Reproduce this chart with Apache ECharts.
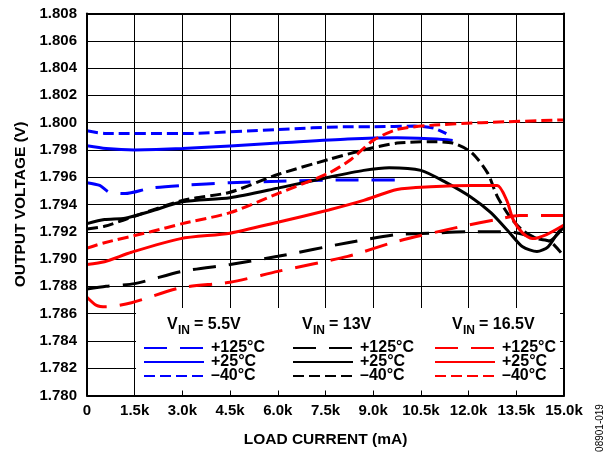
<!DOCTYPE html>
<html>
<head>
<meta charset="utf-8">
<script src="https://cdn.jsdelivr.net/npm/echarts@6/dist/echarts.min.js"></script>
<style>
html,body{margin:0;padding:0;background:#fff;}
#c{width:615px;height:453px;}
</style>
</head>
<body>
<div id="c"></div>
<script>
// ---- data (load current mA, output voltage V) ----
const vin55_p125 = [[0,1.7956],[400,1.7954],[700,1.7949],[1200,1.7948],[2000,1.7952],[3000,1.7954],[4500,1.7956],[6000,1.7957],[8000,1.7958],[10000,1.7958]];
const vin55_p25  = [[0,1.7983],[600,1.7981],[1500,1.7980],[3000,1.7981],[6000,1.7985],[8200,1.7988],[9750,1.7989],[11000,1.7988],[11500,1.7987]];
const vin55_m40  = [[0,1.7994],[600,1.7992],[3000,1.7992],[6000,1.7995],[8200,1.7997],[9000,1.7997],[10300,1.79975],[10900,1.7996],[11300,1.7992]];

const vin13_p125 = [[0,1.7878],[600,1.7880],[1500,1.7882],[3000,1.7891],[4500,1.7896],[6000,1.7902],[8200,1.7912],[9750,1.7918],[10800,1.7919],[12000,1.7920],[13300,1.7920],[13900,1.7917],[14500,1.7913],[15000,1.7924]];
const vin13_p25  = [[0,1.7926],[550,1.7929],[1200,1.7930],[2000,1.7935],[3000,1.7942],[4500,1.7945],[6000,1.7952],[7600,1.7960],[8700,1.7965],[9500,1.7967],[10500,1.7965],[11300,1.7956],[12100,1.7945],[12700,1.7934],[13300,1.7919],[13700,1.7909],[14150,1.79055],[14500,1.7909],[14800,1.7919],[15000,1.7924]];
const vin13_m40  = [[0,1.7922],[550,1.7924],[1200,1.7929],[3000,1.7943],[4500,1.7949],[6000,1.7962],[7600,1.7973],[8700,1.7980],[9750,1.7985],[10800,1.7986],[11500,1.7985],[12100,1.7978],[12600,1.7963],[12900,1.7946],[13300,1.7931],[13700,1.7921],[14150,1.7915],[14560,1.7913],[15000,1.7902]];

const vin165_p125 = [[0,1.7872],[300,1.7866],[600,1.7865],[1400,1.7868],[2950,1.7879],[4500,1.7883],[6000,1.7891],[8200,1.7902],[9750,1.7913],[11800,1.7924],[12900,1.7929],[13600,1.7932],[15000,1.7932]];
const vin165_p25  = [[0,1.7896],[550,1.7898],[1400,1.7905],[2950,1.7915],[4500,1.7919],[6000,1.7927],[7600,1.7936],[8700,1.7943],[9750,1.7951],[10800,1.7953],[12100,1.7954],[12900,1.7954],[13200,1.7943],[13400,1.7929],[13700,1.7919],[14000,1.7915],[14450,1.7918],[15000,1.7925]];
const vin165_m40  = [[0,1.7908],[550,1.7912],[2000,1.7920],[3000,1.7926],[4500,1.7934],[6000,1.7948],[7600,1.7963],[8300,1.7973],[9000,1.7987],[9750,1.7995],[10800,1.7998],[12400,1.8000],[15000,1.8002]];

const xTickLabels = ['0','1.5k','3.0k','4.5k','6.0k','7.5k','9.0k','10.5k','12.0k','13.5k','15.0k'];
const yTickLabels = ['1.780','1.782','1.784','1.786','1.788','1.790','1.792','1.794','1.796','1.798','1.800','1.802','1.804','1.806','1.808'];
const groups = ['5.5V','13V','16.5V'];
const temps = ['+125°C','+25°C','–40°C'];

const FONT = 'Liberation Sans, Arial, Helvetica, sans-serif';
const LONG = [23,13], SHORT = [11,5];
const colors = {'5.5V':'#0000ff','13V':'#000000','16.5V':'#ff0000'};
const dashes = {'+125°C':LONG,'+25°C':'solid','–40°C':SHORT};
const dataMap = {
  '5.5V':{'+125°C':vin55_p125,'+25°C':vin55_p25,'–40°C':vin55_m40},
  '13V':{'+125°C':vin13_p125,'+25°C':vin13_p25,'–40°C':vin13_m40},
  '16.5V':{'+125°C':vin165_p125,'+25°C':vin165_p25,'–40°C':vin165_m40}
};

const series = [];
groups.forEach(g => temps.forEach(t => {
  series.push({
    name: g + '|' + t, type: 'line', data: dataMap[g][t],
    xAxisIndex: 0, yAxisIndex: 0,
    smooth: 0.25, symbol: 'none', showSymbol: false, z: 2,
    lineStyle: {color: colors[g], width: 3, type: dashes[t]},
    itemStyle: {color: colors[g]},
    emphasis: {disabled: true}
  });
}));

const baseX = {type:'value', min:0, max:15000, interval:1500, gridIndex:0};
const baseY = {type:'value', min:1.780, max:1.808, interval:0.002, gridIndex:0};

const legendCols = [143, 292, 434];
const legends = groups.map((g,i) => ({
  orient:'vertical', left: legendCols[i], top: 340, padding: 0,
  itemWidth: 60, itemHeight: 14, itemGap: -2, selectedMode: false,
  data: temps.map(t => g + '|' + t),
  formatter: n => n.split('|')[1],
  itemStyle: {color: 'rgba(0,0,0,0)', borderWidth: 0, opacity: 0},
  textStyle: {fontFamily: FONT, fontWeight:'bold', fontSize: 16, color:'#000', lineHeight: 14, padding:[0,0,0,2]},
  z: 5
}));

function header(x, rest) {
  return [
    {type:'text', x:x, y:325, z:5, style:{text:'V', font:'bold 16px '+FONT, fill:'#000', textVerticalAlign:'middle'}},
    {type:'text', x:x+11, y:331, z:5, style:{text:'IN', font:'bold 12px '+FONT, fill:'#000', textVerticalAlign:'middle'}},
    {type:'text', x:x+27, y:325, z:5, style:{text:rest, font:'bold 16px '+FONT, fill:'#000', textVerticalAlign:'middle'}}
  ];
}

const option = {
  animation: false,
  backgroundColor: '#fff',
  grid: {left: 87, right: 51, top: 13.5, bottom: 57.5, containLabel: false},
  xAxis: [
    Object.assign({}, baseX, {position:'bottom', z:0,
      name:'LOAD CURRENT (mA)', nameLocation:'middle', nameGap: 36,
      nameTextStyle:{fontFamily:FONT, fontWeight:'bold', fontSize:15.5, color:'#000'},
      axisLine:{show:false}, axisTick:{show:false},
      axisLabel:{show:true, margin:8, fontFamily:FONT, fontWeight:'bold', fontSize:15, color:'#000',
        showMinLabel:true, showMaxLabel:true,
        formatter: v => xTickLabels[Math.round(v/1500)]},
      splitLine:{show:true, lineStyle:{color:'#000', width:1}}}),
    Object.assign({}, baseX, {position:'bottom', z:3,
      axisLine:{show:true, onZero:false, lineStyle:{color:'#000', width:2}},
      axisTick:{show:true, inside:true, length:5, lineStyle:{color:'#000', width:1}},
      axisLabel:{show:false}, splitLine:{show:false}}),
    Object.assign({}, baseX, {position:'top', z:3,
      axisLine:{show:true, onZero:false, lineStyle:{color:'#000', width:2}},
      axisTick:{show:false}, axisLabel:{show:false}, splitLine:{show:false}})
  ],
  yAxis: [
    Object.assign({}, baseY, {position:'left', z:0,
      name:'OUTPUT VOLTAGE (V)', nameLocation:'middle', nameGap: 58, nameRotate: 90,
      nameTextStyle:{fontFamily:FONT, fontWeight:'bold', fontSize:15.5, color:'#000'},
      axisLine:{show:false}, axisTick:{show:false},
      axisLabel:{show:true, margin:10, fontFamily:FONT, fontWeight:'bold', fontSize:15, color:'#000',
        showMinLabel:true, showMaxLabel:true,
        formatter: v => yTickLabels[Math.round((v-1.780)/0.002)]},
      splitLine:{show:true, lineStyle:{color:'#000', width:1}}}),
    Object.assign({}, baseY, {position:'left', z:3,
      axisLine:{show:true, onZero:false, lineStyle:{color:'#000', width:2}},
      axisTick:{show:true, inside:true, length:4, lineStyle:{color:'#000', width:1}},
      axisLabel:{show:false}, splitLine:{show:false}}),
    Object.assign({}, baseY, {position:'right', z:3,
      axisLine:{show:true, onZero:false, lineStyle:{color:'#000', width:2}},
      axisTick:{show:true, inside:true, length:4, lineStyle:{color:'#000', width:1}},
      axisLabel:{show:false}, splitLine:{show:false}})
  ],
  legend: legends,
  graphic: [
    {type:'rect', z:1, shape:{x:136, y:308, width:428, height:87.5}, style:{fill:'#fff'}, silent:true},
    ...header(167, '= 5.5V'),
    ...header(302, '= 13V'),
    ...header(452, '= 16.5V'),
    {type:'text', x:600, y:428, rotation: Math.PI/2, z:5,
      style:{text:'08901-019', font:'10px '+FONT, fill:'#000', textAlign:'center', textVerticalAlign:'middle'}}
  ],
  series: series
};

const chart = echarts.init(document.getElementById('c'), null, {renderer:'canvas'});
chart.setOption(option);
</script>
</body>
</html>
